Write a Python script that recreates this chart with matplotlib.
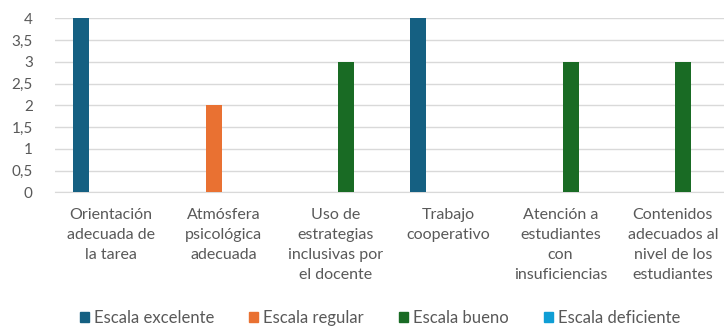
import numpy as np
import matplotlib.pyplot as plt
from matplotlib.patches import Patch

plt.rcParams['font.family'] = ['Lato', 'DejaVu Sans']

categorias = [
    'Orientación\nadecuada de\nla tarea',
    'Atmósfera\npsicológica\nadecuada',
    'Uso de\nestrategias\ninclusivas por\nel docente',
    'Trabajo\ncooperativo',
    'Atención a\nestudiantes\ncon\ninsuficiencias',
    'Contenidos\nadecuados al\nnivel de los\nestudiantes',
]
series = ['Escala excelente', 'Escala regular', 'Escala bueno', 'Escala deficiente']
excelente = [4, 0, 0, 4, 0, 0]
regular = [0, 2, 0, 0, 0, 0]
bueno = [0, 0, 3, 0, 3, 3]
deficiente = [0, 0, 0, 0, 0, 0]
yticks = [0, 0.5, 1, 1.5, 2, 2.5, 3, 3.5, 4]

colores = ['#156082', '#E97132', '#196B24', '#0F9ED5']
gris = '#595959'

fig = plt.figure(figsize=(7.24, 3.29), dpi=100)
ax = fig.add_axes([0.076, 0.4155, 0.931, 0.5289])

x = np.arange(len(categorias))
ancho = 0.142
paso = 0.178
for i, (nombre, vals) in enumerate(zip(series, [excelente, regular, bueno, deficiente])):
    desp = (i - 1.5) * paso
    ax.bar(x + desp, vals, width=ancho, color=colores[i], label=nombre, zorder=3, linewidth=0)

ax.set_xlim(-0.5, len(categorias) - 0.5)
ax.set_ylim(0, 4)
ax.set_yticks(yticks)
ax.set_yticklabels([f'{v:g}'.replace('.', ',') for v in yticks], color=gris, fontsize=11)
ax.set_xticks(x)
ax.set_xticklabels(categorias, color=gris, fontsize=11.5, linespacing=1.55, va='top')
ax.tick_params(axis='both', length=0)
ax.tick_params(axis='y', pad=16)
ax.tick_params(axis='x', pad=11)
ax.grid(axis='y', color='#D9D9D9', linewidth=1, zorder=0)
for s in ['top', 'right', 'left']:
    ax.spines[s].set_visible(False)
ax.spines['bottom'].set_color('#D9D9D9')

handles = [Patch(color=c) for c in colores]
fig.legend(handles, series, loc='center', bbox_to_anchor=(380 / 724, 1 - 318 / 329),
           ncol=4, frameon=False, fontsize=12, labelcolor=gris,
           handlelength=0.55, handleheight=0.55, handletextpad=0.3, columnspacing=2.1)

fig.savefig('out.png', dpi=100)
